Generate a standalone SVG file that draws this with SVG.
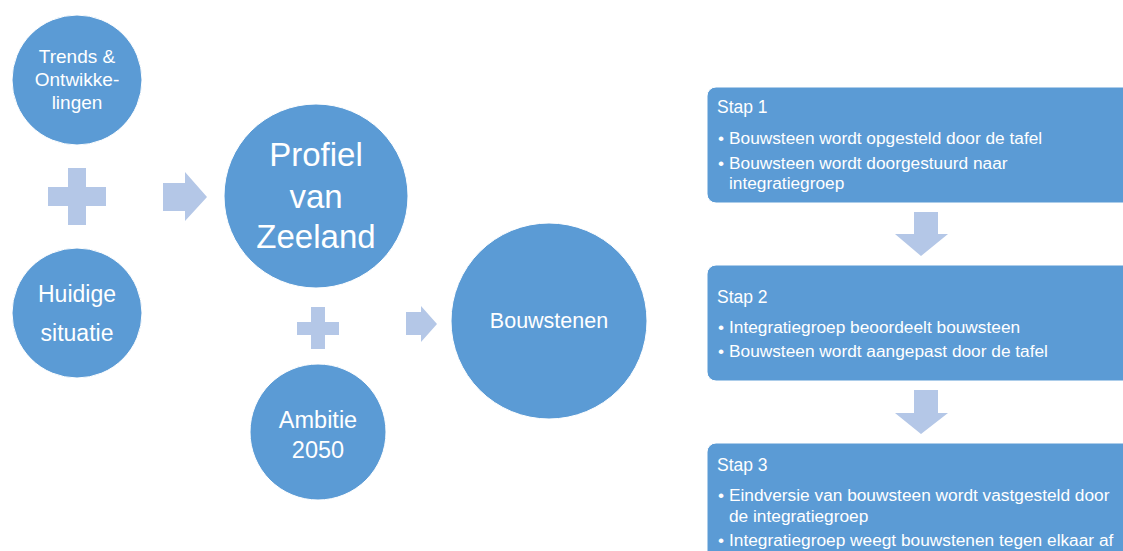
<svg xmlns="http://www.w3.org/2000/svg" width="1123" height="551" viewBox="0 0 1123 551">
<style>
.node{fill:#5B9BD5;stroke:#FFFFFF;stroke-width:1}
.conn{fill:#B4C7E7}
text{font-family:"Liberation Sans",Arial,sans-serif;fill:#FFFFFF}
.c{text-anchor:middle}
.step{font-size:17.5px}
.b{font-size:17.3px}
</style>
<rect width="1123" height="551" fill="#FFFFFF"/>
<g id="connectors">
  <path class="conn" d="M68,168 H86 V187 H106 V206 H86 V225 H68 V206 H48 V187 H68 Z"/>
  <path class="conn" d="M163,183 H185 V172 L207,197 L185,221 V211 H163 Z"/>
  <path class="conn" d="M311,307 H325 V322 H339 V335 H325 V349 H311 V335 H297 V322 H311 Z"/>
  <path class="conn" d="M406,312 H421 V306 L437,324 L421,342 V335 H406 Z"/>
  <path class="conn" d="M914,212 H938 V234 H948 L921,256 L895,234 H914 Z"/>
  <path class="conn" d="M914,390 H938 V413 H948 L921,434 L895,413 H914 Z"/>
</g>
<g id="trends">
  <circle class="node" cx="77" cy="80" r="65"/>
  <text class="c" x="77" y="63" font-size="19">Trends &amp;</text>
  <text class="c" x="77" y="86" font-size="19">Ontwikke-</text>
  <text class="c" x="77" y="109" font-size="19">lingen</text>
</g>
<g id="huidige">
  <circle class="node" cx="77" cy="313" r="65"/>
  <text class="c" x="77" y="302" font-size="23">Huidige</text>
  <text class="c" x="77" y="341" font-size="23">situatie</text>
</g>
<g id="profiel">
  <circle class="node" cx="316" cy="196" r="92"/>
  <text class="c" x="316" y="166" font-size="33">Profiel</text>
  <text class="c" x="316" y="208" font-size="33">van</text>
  <text class="c" x="316" y="248" font-size="33">Zeeland</text>
</g>
<g id="ambitie">
  <circle class="node" cx="318" cy="432" r="68"/>
  <text class="c" x="318" y="428" font-size="23.5">Ambitie</text>
  <text class="c" x="318" y="458" font-size="23.5">2050</text>
</g>
<g id="bouwstenen">
  <circle class="node" cx="549" cy="321" r="98"/>
  <text class="c" x="549" y="328" font-size="21.5">Bouwstenen</text>
</g>
<g id="stap1">
  <rect class="node" x="707" y="87" width="430" height="116" rx="9"/>
  <text class="step" x="717" y="113">Stap 1</text>
  <text class="b" x="718" y="144">•</text>
  <text class="b" x="729" y="144">Bouwsteen wordt opgesteld door de tafel</text>
  <text class="b" x="718" y="169">•</text>
  <text class="b" x="729" y="169">Bouwsteen wordt doorgestuurd naar</text>
  <text class="b" x="729" y="189">integratiegroep</text>
</g>
<g id="stap2">
  <rect class="node" x="707" y="265" width="430" height="116" rx="9"/>
  <text class="step" x="717" y="303">Stap 2</text>
  <text class="b" x="718" y="333">•</text>
  <text class="b" x="729" y="333">Integratiegroep beoordeelt bouwsteen</text>
  <text class="b" x="718" y="357">•</text>
  <text class="b" x="729" y="357">Bouwsteen wordt aangepast door de tafel</text>
</g>
<g id="stap3">
  <rect class="node" x="707" y="443" width="430" height="130" rx="9"/>
  <text class="step" x="717" y="471">Stap 3</text>
  <text class="b" x="718" y="501">•</text>
  <text class="b" x="729" y="501">Eindversie van bouwsteen wordt vastgesteld door</text>
  <text class="b" x="729" y="522">de integratiegroep</text>
  <text class="b" x="718" y="546">•</text>
  <text class="b" x="729" y="546">Integratiegroep weegt bouwstenen tegen elkaar af</text>
</g>
</svg>
